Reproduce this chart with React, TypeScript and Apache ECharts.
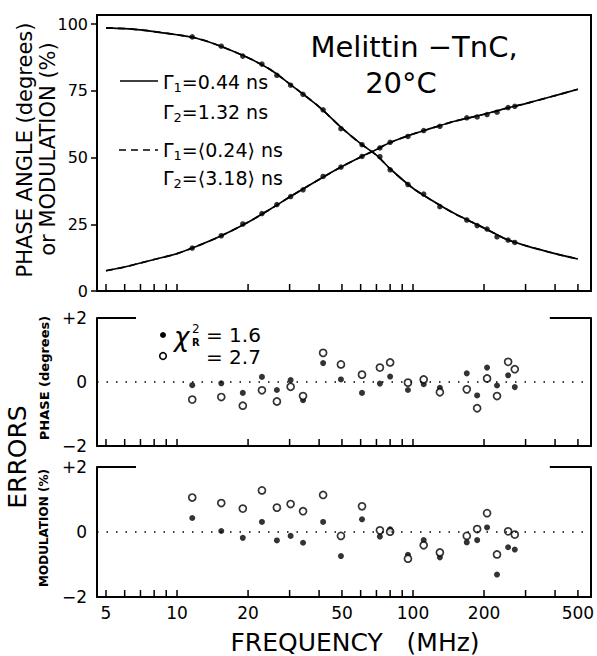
import React, { useEffect, useRef } from "react";
import * as echarts from "echarts";

// ---- data ----
const curveFreq = [5, 6, 7, 8, 10, 12, 15, 20, 25, 30, 40, 50, 60, 70, 80, 100, 120, 150, 200, 250, 300, 400, 500];
const phaseFit = [7.6, 9.0, 10.5, 11.8, 14.0, 16.6, 20.2, 25.8, 30.8, 35.2, 41.8, 46.6, 50.2, 53.0, 55.6, 58.8, 61.0, 63.6, 66.2, 68.5, 70.2, 73.2, 75.6];
const modFit = [98.6, 98.3, 97.8, 97.2, 96.0, 94.8, 92.0, 87.4, 82.8, 77.6, 69.0, 61.0, 55.2, 50.9, 45.8, 38.5, 34.0, 29.0, 23.6, 19.3, 17.0, 14.0, 12.0];

const measFreq = [11.6, 15.4, 19.0, 22.9, 26.5, 30.3, 34.2, 41.6, 49.5, 60.8, 72.4, 80.0, 95.2, 111, 130, 169, 187, 206, 227, 253, 270];
const phaseMeas = [16.1, 20.7, 25.1, 29.0, 32.4, 35.4, 37.9, 42.9, 46.4, 50.4, 53.6, 55.7, 57.9, 60.1, 61.7, 64.9, 65.2, 66.1, 67.0, 68.7, 69.2];
const modMeas = [95.2, 91.7, 88.0, 85.0, 80.8, 77.1, 73.7, 67.9, 60.8, 54.8, 50.3, 45.4, 39.9, 36.3, 31.6, 26.6, 24.5, 23.2, 20.3, 19.1, 18.2];

const phaseErrSolid = [-0.1, -0.04, -0.34, 0.16, -0.25, 0.06, -0.57, 0.59, 0.08, -0.34, -0.05, 0.17, -0.25, -0.07, -0.18, 0.27, -0.42, 0.45, -0.11, 0.21, -0.16];
const phaseErrOpen = [-0.55, -0.47, -0.74, -0.26, -0.61, -0.15, -0.44, 0.91, 0.55, 0.23, 0.45, 0.61, -0.02, 0.08, -0.32, -0.23, -0.82, 0.11, -0.44, 0.63, 0.4];
const modErrSolid = [0.43, 0.03, -0.18, 0.31, -0.26, -0.12, -0.33, 0.31, -0.74, 0.39, -0.14, 0.08, -0.7, -0.25, -0.78, -0.32, -0.25, 0.14, -1.31, -0.47, -0.54];
const modErrOpen = [1.06, 0.89, 0.72, 1.28, 0.75, 0.86, 0.64, 1.14, -0.12, 0.79, 0.05, 0.01, -0.82, -0.41, -0.63, -0.12, 0.09, 0.58, -0.69, 0.02, -0.08];

const tickFreq = [5, 6, 7, 8, 9, 10, 20, 30, 40, 50, 60, 70, 80, 90, 100, 200, 300, 400, 500];
const labelFreq = [5, 10, 20, 50, 100, 200, 500];
const topTicks = [0, 25, 50, 75, 100];

const X_MIN = 4.58;
const X_MAX = 568;
const F = "'DejaVu Sans', sans-serif";

export default function App() {
  const ref = useRef<HTMLDivElement>(null);
  useEffect(() => {
    if (!ref.current) return;
    const chart = echarts.init(ref.current, undefined, { renderer: "svg" });

    const grids = [
      { left: 97, top: 15, width: 494, height: 276, show: true, borderColor: "#000", borderWidth: 2 },
      { left: 97, top: 318, width: 494, height: 128 },
      { left: 97, top: 467, width: 494, height: 130 },
    ];
    const yMins = [0, -2, -2];

    const xAxes = [0, 1, 2].map((g) => ({
      type: "log",
      logBase: 10,
      gridIndex: g,
      min: X_MIN,
      max: X_MAX,
      axisLine: { show: true, onZero: false, lineStyle: { color: "#000", width: 2 } },
      axisTick: { show: false },
      axisLabel: { show: false },
      splitLine: { show: false },
      minorTick: { show: false },
    }));

    const errFmt = (v: number) => (v > 0 ? "+" + v : v < 0 ? "\u2212" + Math.abs(v) : "0");

    const yAxes: any[] = [
      {
        type: "value",
        gridIndex: 0,
        min: 0,
        max: 103.4,
        axisLine: { show: true, onZero: false, lineStyle: { color: "#000", width: 2 } },
        axisTick: { show: true, customValues: topTicks, length: 6, lineStyle: { color: "#000", width: 1.5 } },
        axisLabel: { customValues: topTicks, color: "#000", fontSize: 16, fontFamily: F, margin: 9 },
        splitLine: { show: false },
      },
      ...[1, 2].map((g) => ({
        type: "value",
        gridIndex: g,
        min: -2,
        max: 2,
        interval: 2,
        axisLine: { show: true, onZero: false, lineStyle: { color: "#000", width: 2 } },
        axisTick: { show: false },
        axisLabel: { color: "#000", fontSize: 17, fontFamily: F, margin: 10, formatter: errFmt },
        splitLine: { show: false },
      })),
      ...[1, 2].map((g) => ({
        type: "value",
        gridIndex: g,
        position: "right",
        min: -2,
        max: 2,
        axisLine: { show: true, onZero: false, lineStyle: { color: "#000", width: 2 } },
        axisTick: { show: false },
        axisLabel: { show: false },
        splitLine: { show: false },
      })),
    ];

    const tickSeries = [0, 1, 2].map((g) => ({
      type: "custom",
      xAxisIndex: g,
      yAxisIndex: g,
      silent: true,
      z: 5,
      data: tickFreq.map((f) => [f, yMins[g]]),
      renderItem: (_p: any, api: any) => {
        const p = api.coord([api.value(0), api.value(1)]);
        return {
          type: "line",
          shape: { x1: p[0], y1: p[1], x2: p[0], y2: p[1] - 7 },
          style: { stroke: "#000", lineWidth: 1.5 },
        };
      },
    }));

    const labelSeries = {
      type: "custom",
      xAxisIndex: 2,
      yAxisIndex: 2,
      silent: true,
      data: labelFreq.map((f) => [f, -2]),
      renderItem: (_p: any, api: any) => {
        const p = api.coord([api.value(0), api.value(1)]);
        return {
          type: "text",
          x: p[0],
          y: p[1] + 16,
          style: {
            text: String(api.value(0)),
            fill: "#000",
            fontSize: 17,
            fontFamily: F,
            textAlign: "center",
            textVerticalAlign: "middle",
            align: "center",
            verticalAlign: "middle",
          },
        };
      },
    };

    const fitPairs = (ys: number[]) => curveFreq.map((f, i) => [f, ys[i]]);
    const measPairs = (ys: number[]) => measFreq.map((f, i) => [f, ys[i]]);

    const lineSeries = (ys: number[], dashed: boolean) => ({
      type: "line",
      xAxisIndex: 0,
      yAxisIndex: 0,
      data: fitPairs(ys),
      smooth: 0.3,
      showSymbol: false,
      silent: true,
      lineStyle: { color: "#000", width: 1.7, type: dashed ? [7, 5] : "solid" },
    });

    const dotSeries = (ys: number[]) => ({
      type: "scatter",
      xAxisIndex: 0,
      yAxisIndex: 0,
      data: measPairs(ys),
      symbol: "circle",
      symbolSize: 5.5,
      silent: true,
      itemStyle: { color: "#000" },
      z: 4,
    });

    const zeroLine = {
      silent: true,
      symbol: "none",
      label: { show: false },
      lineStyle: { color: "#000", width: 1.6, type: [1.5, 8] },
      data: [{ yAxis: 0 }],
    };
    const topEdge = {
      silent: true,
      symbol: "none",
      label: { show: false },
      lineStyle: { color: "#000", width: 2, type: "solid" },
      data: [
        [{ coord: [X_MIN, 2] }, { coord: [6.7, 2] }],
        [{ coord: [380, 2] }, { coord: [X_MAX, 2] }],
      ],
    };

    const errSeries = (g: number, solid: number[], open: number[]) => [
      {
        type: "scatter",
        xAxisIndex: g,
        yAxisIndex: g,
        data: measPairs(solid),
        symbol: "circle",
        symbolSize: 6,
        silent: true,
        itemStyle: { color: "#000" },
        z: 3,
        markLine: { ...zeroLine, animation: false },
      },
      {
        type: "scatter",
        xAxisIndex: g,
        yAxisIndex: g,
        data: measPairs(open),
        symbol: "circle",
        symbolSize: 7,
        silent: true,
        itemStyle: { color: "#fff", borderColor: "#000", borderWidth: 1.7 },
        z: 4,
        markLine: { ...topEdge, animation: false },
      },
    ];

    const txt = (text: string, x: number, y: number, size: number, extra: any = {}) => ({
      type: "text",
      x,
      y,
      silent: true,
      ...extra,
      style: {
        text,
        fill: "#000",
        fontSize: size,
        fontFamily: F,
        textAlign: extra.align || "left",
        textVerticalAlign: "middle",
        fontWeight: extra.weight || "normal",
        fontStyle: extra.italic ? "italic" : "normal",
      },
    });

    const gammaRich = {
      g: { fontSize: 19, fontFamily: F, lineHeight: 22 },
      s: { fontSize: 13, fontFamily: F, lineHeight: 13, padding: [10, 0, 0, 0] },
      n: { fontSize: 19, fontFamily: F, lineHeight: 22 },
    };
    const gamma = (sub: string, rest: string, x: number, y: number) => ({
      type: "text",
      x,
      y,
      silent: true,
      style: {
        text: `{g|\u0393}{s|${sub}}{n|${rest}}`,
        rich: gammaRich,
        fill: "#000",
        textAlign: "left",
        textVerticalAlign: "middle",
      },
    });

    const graphic: any[] = [
      txt("PHASE ANGLE (degrees)", 25, 150, 21, { rotation: Math.PI / 2, align: "center" }),
      txt("or MODULATION (%)", 48, 149, 21, { rotation: Math.PI / 2, align: "center" }),
      txt("ERRORS", 17, 457, 25, { rotation: Math.PI / 2, align: "center" }),
      txt("PHASE (degrees)", 44, 378, 13, { rotation: Math.PI / 2, align: "center", weight: "bold" }),
      txt("MODULATION (%)", 44, 528, 12, { rotation: Math.PI / 2, align: "center", weight: "bold" }),
      txt("FREQUENCY   (MHz)", 355, 642, 25, { align: "center" }),
      txt("Melittin \u2212TnC,", 414, 47, 29, { align: "center" }),
      txt("20\u00B0C", 401, 83, 29, { align: "center" }),
      { type: "line", silent: true, shape: { x1: 120, y1: 81, x2: 158, y2: 81 }, style: { stroke: "#000", lineWidth: 1.6 } },
      { type: "line", silent: true, shape: { x1: 119, y1: 150, x2: 158, y2: 150 }, style: { stroke: "#000", lineWidth: 1.6, lineDash: [7, 5] } },
      gamma("1", "=0.44 ns", 163, 82),
      gamma("2", "=1.32 ns", 163, 112),
      gamma("1", "=\u27E80.24\u27E9 ns", 163, 150),
      gamma("2", "=\u27E83.18\u27E9 ns", 163, 178),
      { type: "circle", silent: true, shape: { cx: 163, cy: 335, r: 3 }, style: { fill: "#000" } },
      { type: "circle", silent: true, shape: { cx: 163, cy: 356, r: 3.3 }, style: { fill: "#fff", stroke: "#000", lineWidth: 1.6 } },
      txt("\u03C7", 174, 337, 26, { italic: true }),
      txt("2", 192, 329, 12),
      txt("R", 192, 342, 10, { weight: "bold" }),
      txt("= 1.6", 206, 335, 20),
      txt("= 2.7", 206, 357, 20),
    ];

    chart.setOption({
      animation: false,
      backgroundColor: "#fff",
      grid: grids,
      xAxis: xAxes,
      yAxis: yAxes,
      graphic,
      series: [
        lineSeries(phaseFit, true),
        lineSeries(modFit, true),
        lineSeries(phaseFit, false),
        lineSeries(modFit, false),
        dotSeries(phaseMeas),
        dotSeries(modMeas),
        ...errSeries(1, phaseErrSolid, phaseErrOpen),
        ...errSeries(2, modErrSolid, modErrOpen),
        ...tickSeries,
        labelSeries,
      ],
    });
    return () => chart.dispose();
  }, []);
  return <div ref={ref} style={{ position: "fixed", left: 0, top: 0, width: 597, height: 656 }} />;
}
